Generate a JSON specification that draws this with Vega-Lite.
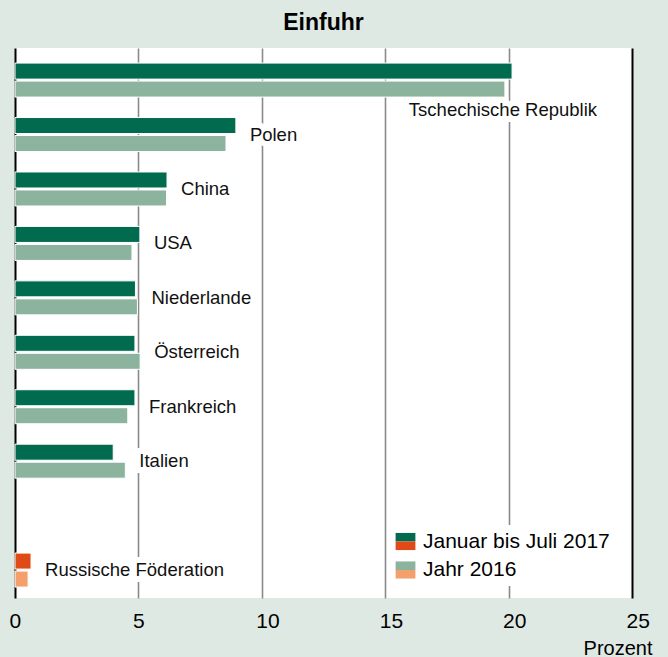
{
  "$schema": "https://vega.github.io/schema/vega-lite/v6.json",
  "width": 617,
  "height": 550,
  "autosize": {"type": "none"},
  "padding": {"left": 15, "top": 48, "right": 36, "bottom": 59},
  "background": "#dfe9e3",
  "title": {"text": "Einfuhr", "fontSize": 23, "font": "Liberation Sans", "fontWeight": "bold", "color": "black", "anchor": "middle", "baseline": "middle", "offset": 28, "dy": 26},
  "config": {"view": {"stroke": null, "fill": "white"}, "font": "Liberation Sans"},
  "data": {"values": [
    {"country": "Tschechische Republik", "series": "Januar bis Juli 2017", "value": 20.14},
    {"country": "Tschechische Republik", "series": "Jahr 2016", "value": 19.85},
    {"country": "Polen", "series": "Januar bis Juli 2017", "value": 8.95},
    {"country": "Polen", "series": "Jahr 2016", "value": 8.55},
    {"country": "China", "series": "Januar bis Juli 2017", "value": 6.16},
    {"country": "China", "series": "Jahr 2016", "value": 6.14},
    {"country": "USA", "series": "Januar bis Juli 2017", "value": 5.06},
    {"country": "USA", "series": "Jahr 2016", "value": 4.74},
    {"country": "Niederlande", "series": "Januar bis Juli 2017", "value": 4.88},
    {"country": "Niederlande", "series": "Jahr 2016", "value": 4.96},
    {"country": "Österreich", "series": "Januar bis Juli 2017", "value": 4.86},
    {"country": "Österreich", "series": "Jahr 2016", "value": 5.07},
    {"country": "Frankreich", "series": "Januar bis Juli 2017", "value": 4.86},
    {"country": "Frankreich", "series": "Jahr 2016", "value": 4.57},
    {"country": "Italien", "series": "Januar bis Juli 2017", "value": 3.98},
    {"country": "Italien", "series": "Jahr 2016", "value": 4.47},
    {"country": "Russische Föderation", "series": "Januar bis Juli 2017", "value": 0.65},
    {"country": "Russische Föderation", "series": "Jahr 2016", "value": 0.53}
  ]},
  "encoding": {
    "y": {"field": "country", "type": "nominal", "axis": null,
      "scale": {"domain": ["Tschechische Republik", "Polen", "China", "USA", "Niederlande", "Österreich", "Frankreich", "Italien", " ", "Russische Föderation"], "paddingInner": 0.3755, "paddingOuter": 0.239, "align": 0.58}}
  },
  "layer": [
    {
      "transform": [{"filter": "datum.country != 'Russische Föderation'"}],
      "mark": {"type": "bar", "stroke": "white", "strokeWidth": 1},
      "encoding": {
        "x": {"field": "value", "type": "quantitative", "scale": {"domain": [0, 25], "nice": false},
          "axis": {"values": [0, 5, 10, 15, 20, 25], "title": "Prozent", "grid": true,
            "gridColor": {"condition": {"test": "datum.value == 0 || datum.value == 25", "value": "black"}, "value": "#8a8a8a"},
            "gridWidth": {"condition": {"test": "datum.value == 0 || datum.value == 25", "value": 2}, "value": 1.6},
            "ticks": false, "domain": false, "labelFontSize": 21, "labelColor": "black", "labelAlign": "left", "labelOffset": -6,
            "labelFlush": false, "labelPadding": 12, "titleFontSize": 20, "titleFontWeight": "normal", "titleColor": "black",
            "titleX": 637, "titleY": 56, "titleAlign": "right", "titleBaseline": "alphabetic"}},
        "yOffset": {"field": "series", "type": "nominal", "sort": ["Januar bis Juli 2017", "Jahr 2016"], "scale": {"paddingInner": 0.11, "paddingOuter": 0}},
        "color": {"field": "series", "type": "nominal", "sort": "descending",
          "scale": {"range": ["#006b4f", "#8cb39d"]},
          "legend": {"orient": "none", "legendX": 374, "legendY": 477, "title": null, "symbolType": "M-1.1,-0.95H1.1V0H-1.1Z",
            "symbolSize": 324, "symbolStrokeWidth": 0, "labelFontSize": 21, "labelColor": "black", "labelOffset": 7, "labelLimit": 400,
            "fillColor": "white", "padding": 6, "rowPadding": 6.5}}
      }
    },
    {
      "transform": [{"filter": "datum.country == 'Russische Föderation'"}],
      "mark": {"type": "bar", "stroke": "white", "strokeWidth": 1},
      "encoding": {
        "x": {"field": "value", "type": "quantitative"},
        "yOffset": {"field": "series", "type": "nominal", "sort": ["Januar bis Juli 2017", "Jahr 2016"]},
        "fill": {"field": "series", "type": "nominal", "sort": "descending",
          "scale": {"range": ["#e04a17", "#f4a06c"]},
          "legend": {"orient": "none", "legendX": 374, "legendY": 477, "title": null, "symbolType": "M-1.1,0H1.1V0.95H-1.1Z",
            "symbolSize": 324, "symbolStrokeWidth": 0, "labelFontSize": 21, "labelColor": "transparent", "labelOffset": 7, "labelLimit": 400,
            "padding": 6, "rowPadding": 6.5}}
      }
    },
    {
      "transform": [
        {"filter": "datum.country != 'Tschechische Republik'"},
        {"aggregate": [{"op": "max", "field": "value", "as": "maxv"}], "groupby": ["country"]}
      ],
      "encoding": {
        "x": {"field": "maxv", "type": "quantitative"},
        "text": {"field": "country"}
      },
      "layer": [
        {"mark": {"type": "text", "align": "left", "baseline": "middle", "dx": 14, "fontSize": 18.5, "stroke": "white", "strokeWidth": 12, "fill": "white"}},
        {"mark": {"type": "text", "align": "left", "baseline": "middle", "dx": 14, "fontSize": 18.5, "fill": "#111"}}
      ]
    },
    {
      "transform": [
        {"filter": "datum.country == 'Tschechische Republik'"},
        {"aggregate": [{"op": "max", "field": "value", "as": "maxv"}], "groupby": ["country"]}
      ],
      "encoding": {
        "x": {"field": "maxv", "type": "quantitative"},
        "text": {"field": "country"}
      },
      "layer": [
        {"mark": {"type": "text", "align": "right", "baseline": "middle", "dx": 85, "dy": 30, "fontSize": 18.5, "stroke": "white", "strokeWidth": 12, "fill": "white"}},
        {"mark": {"type": "text", "align": "right", "baseline": "middle", "dx": 85, "dy": 30, "fontSize": 18.5, "fill": "#111"}}
      ]
    }
  ]
}
